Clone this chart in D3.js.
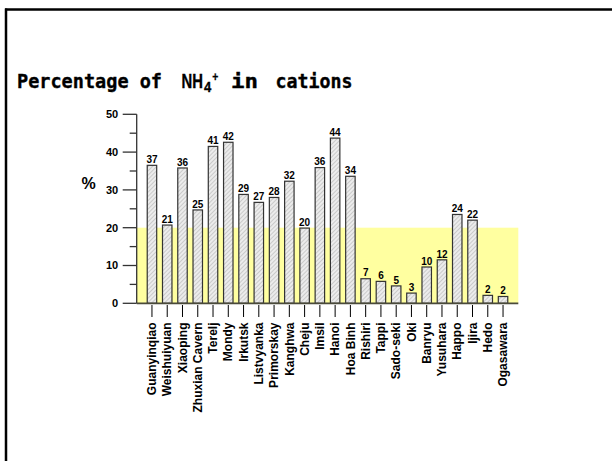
<!DOCTYPE html>
<html>
<head>
<meta charset="utf-8">
<script src="https://cdn.jsdelivr.net/npm/d3@7"></script>
<style>
  html, body { margin: 0; padding: 0; background: #fff; }
  svg { display: block; }
</style>
</head>
<body>
<svg id="chart" width="612" height="461"></svg>
<script>
// ---- data ----
const categories = ["Guanyinqiao","Weishuiyuan","Xiaoping","Zhuxian Cavern","Terelj","Mondy","Irkutsk","Listvyanka","Primorskay","Kanghwa","Cheju","Imsil","Hanoi","Hoa Binh","Rishiri","Tappi","Sado-seki","Oki","Banryu","Yusuhara","Happo","Ijira","Hedo","Ogasawara"];
const values = [36.5,20.7,35.8,24.7,41.5,42.6,28.8,26.7,28.0,32.3,19.9,35.9,43.7,33.6,6.5,5.8,4.6,2.7,9.6,11.5,23.5,22.0,2.1,1.8];
const valueLabels = ["37","21","36","25","41","42","29","27","28","32","20","36","44","34","7","6","5","3","10","12","24","22","2","2"];
const yTicks = [0,10,20,30,40,50];
const yMinorTicks = [5,15,25,35,45];
const bandRange = [0,20];

const svg = d3.select("#chart");

// slide frame
svg.append("line").attr("x1",5).attr("x2",612).attr("y1",9.5).attr("y2",9.5)
  .attr("stroke","#000").attr("stroke-width",2.5);
svg.append("line").attr("x1",6).attr("x2",6).attr("y1",8.5).attr("y2",461)
  .attr("stroke","#000").attr("stroke-width",2.5);

// title
const tb = 88;
const mono = "'DejaVu Sans Mono', monospace";
const sans = "'Liberation Sans', Arial, sans-serif";
function tt(txt, x, y, size, fam, len) {
  const t = svg.append("text").attr("x",x).attr("y",y).attr("font-size",size)
    .attr("font-family",fam).attr("font-weight","bold").attr("fill","#000")
    .attr("stroke","#000").attr("stroke-width",0.35).text(txt);
  if (len) t.attr("textLength",len).attr("lengthAdjust","spacingAndGlyphs");
  return t;
}
tt("Percentage of", 17, tb, 19, mono, 145);
// NH (horizontally condensed via transform), subscript 4, superscript +
svg.append("text").attr("transform",`translate(181.5,${tb}) scale(0.76,1)`)
  .attr("font-size",19.5).attr("font-family",sans).attr("font-weight","bold")
  .attr("fill","#000").attr("stroke","#000").attr("stroke-width",0.35).text("NH");
svg.append("text").attr("transform","translate(204,92.3) scale(0.9,1)")
  .attr("font-size",14.5).attr("font-family",sans).attr("font-weight","bold")
  .attr("fill","#000").attr("stroke","#000").attr("stroke-width",0.3).text("4");
svg.append("text").attr("transform","translate(212.3,81) scale(0.8,1)")
  .attr("font-size",13).attr("font-family",sans).attr("font-weight","bold")
  .attr("fill","#000").attr("stroke","#000").attr("stroke-width",0.3).text("+");
tt("in", 231, tb, 19, mono, 27);
tt("cations", 275.5, tb, 19, mono, 77);

// scales
const x = d3.scaleBand().domain(categories).range([136.7, 518.3])
  .paddingInner(0.38).paddingOuter(0.69);
const y = d3.scaleLinear().domain([0,50]).range([303.3,114.3]);

// hatch pattern
const defs = svg.append("defs");
const pat = defs.append("pattern").attr("id","hatch").attr("patternUnits","userSpaceOnUse")
  .attr("width",3).attr("height",3).attr("patternTransform","rotate(45)");
pat.append("rect").attr("width",3).attr("height",3).attr("fill","#ececec");
pat.append("line").attr("x1",0).attr("x2",0).attr("y1",0).attr("y2",3)
  .attr("stroke","#a8a8a8").attr("stroke-width",1);

// yellow band
svg.append("rect").attr("x",136.7).attr("width",518.3-136.7)
  .attr("y",y(bandRange[1])).attr("height",y(bandRange[0])-y(bandRange[1]))
  .attr("fill","#ffffa0");

// bars
svg.append("g").selectAll("rect").data(values).join("rect")
  .attr("x",(d,i)=>x(categories[i]))
  .attr("width",x.bandwidth())
  .attr("y",d=>y(d))
  .attr("height",d=>y(0)-y(d))
  .attr("fill","url(#hatch)")
  .attr("stroke","#333").attr("stroke-width",1.2);

// value labels
svg.append("g").selectAll("text").data(valueLabels).join("text")
  .attr("x",(d,i)=>x(categories[i])+x.bandwidth()/2)
  .attr("y",(d,i)=>y(values[i])-2.3)
  .attr("text-anchor","middle").attr("font-family",sans).attr("font-weight","bold")
  .attr("font-size",10).attr("fill","#000").text(d=>d);

// y axis
const yAxis = svg.append("g").attr("transform","translate(136.7,0)");
yAxis.append("line").attr("x1",0).attr("x2",0).attr("y1",y(50)).attr("y2",y(0))
  .attr("stroke","#333").attr("stroke-width",1.3);
yAxis.selectAll("line.maj").data(yTicks).join("line").attr("class","maj")
  .attr("x1",-14).attr("x2",0).attr("y1",d=>y(d)).attr("y2",d=>y(d))
  .attr("stroke","#333").attr("stroke-width",1.3);
yAxis.selectAll("line.min").data(yMinorTicks).join("line").attr("class","min")
  .attr("x1",-7).attr("x2",0).attr("y1",d=>y(d)).attr("y2",d=>y(d))
  .attr("stroke","#333").attr("stroke-width",1.3);
yAxis.selectAll("text").data(yTicks).join("text")
  .attr("x",-18.5).attr("y",d=>y(d)).attr("dy","0.36em")
  .attr("text-anchor","end").attr("font-family",sans).attr("font-weight","bold")
  .attr("font-size",11).attr("fill","#000").text(d=>d);

svg.append("text").attr("x",88.5).attr("y",188.5).attr("text-anchor","middle")
  .attr("font-family",sans).attr("font-weight","bold").attr("font-size",16)
  .attr("fill","#000").text("%");

// x axis baseline
svg.append("line").attr("x1",136.7).attr("x2",518.3).attr("y1",y(0)).attr("y2",y(0))
  .attr("stroke","#4a4a3a").attr("stroke-width",1.8);

// x ticks and labels
const xg = svg.append("g").selectAll("g").data(categories).join("g")
  .attr("transform",d=>`translate(${x(d)+x.bandwidth()/2},0)`);
xg.append("line").attr("x1",0).attr("x2",0).attr("y1",305).attr("y2",317)
  .attr("stroke","#000").attr("stroke-width",1);
xg.append("text").attr("transform","translate(0,322.5) rotate(-90)")
  .attr("dy","0.35em").attr("text-anchor","end").attr("font-family",sans)
  .attr("font-weight","bold").attr("font-size",12).attr("fill","#000").text(d=>d);
</script>
</body>
</html>
